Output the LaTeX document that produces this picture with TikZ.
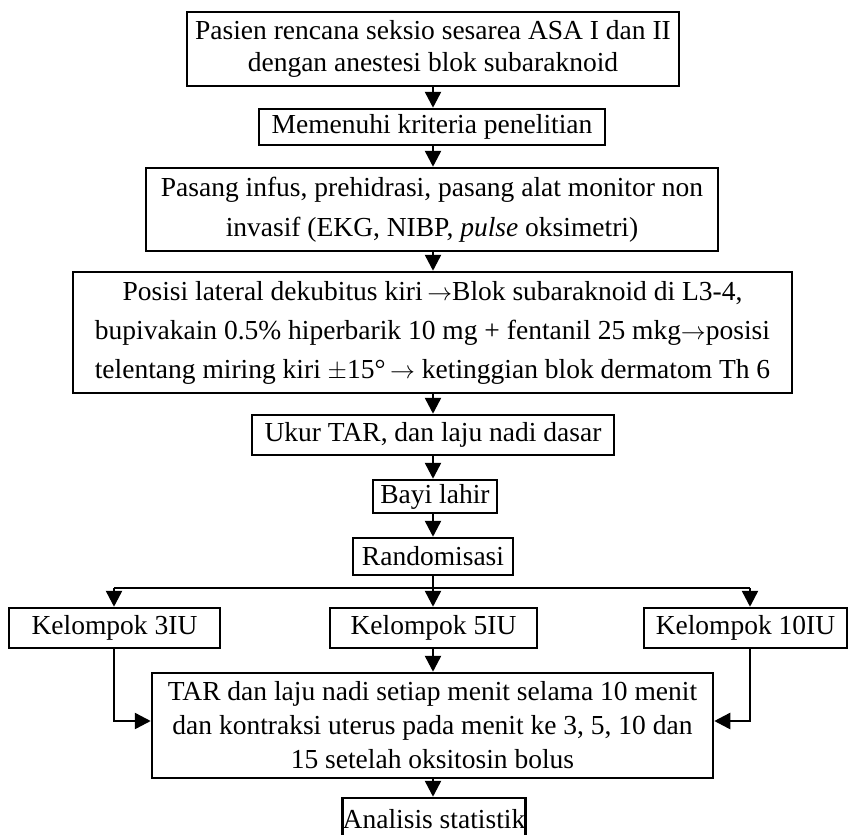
\documentclass[tikz,border=0pt]{standalone}
\usepackage{fontspec}
\setmainfont{Liberation Serif}
\usetikzlibrary{arrows.meta,calc}
\newcommand{\rarr}{\ensuremath{\rightarrow}}
\begin{document}
\begin{tikzpicture}[x=1pt,y=-1pt,
  box/.style={draw, line width=2.5pt, inner sep=0pt, align=center, font=\fontsize{27.5}{32}\selectfont},
  conn/.style={line width=2.5pt, -{Triangle[width=16pt,length=16pt]}},
  wire/.style={line width=2.5pt}]
\clip (0,0) rectangle (849,835);
\node[box, minimum width=492, minimum height=74] (b1) at (433,49)
  {Pasien rencana seksio sesarea ASA I dan II\\dengan anestesi blok subaraknoid};
\node[box, minimum width=346, minimum height=36] (b2) at (432,127)
  {Memenuhi kriteria penelitian};
\node[box, minimum width=572, minimum height=83, font=\fontsize{27.5}{40}\selectfont] (b3) at (432,209.5)
  {Pasang infus, prehidrasi, pasang alat monitor non\\invasif (EKG, NIBP, \textit{pulse} oksimetri)};
\node[box, minimum width=719, minimum height=121, font=\fontsize{27.5}{39}\selectfont] (b4) at (432.5,332.5)
  {Posisi lateral dekubitus kiri\,\rarr Blok subaraknoid di L3-4,\\
   bupivakain 0.5\% hiperbarik 10 mg + fentanil 25 mkg\rarr posisi\\
   telentang miring kiri \ensuremath{\pm}15°\,\rarr\ ketinggian blok dermatom Th 6};
\node[box, minimum width=362, minimum height=40] (b5) at (433,435)
  {Ukur TAR, dan laju nadi dasar};
\node[box, minimum width=124, minimum height=33] (b6) at (435,496.5)
  {Bayi lahir};
\node[box, minimum width=160, minimum height=37] (b7) at (433,556.5)
  {Randomisasi};
\node[box, minimum width=211, minimum height=40] (k3) at (114.5,628)
  {Kelompok 3IU};
\node[box, minimum width=207, minimum height=40] (k5) at (433.5,628)
  {Kelompok 5IU};
\node[box, minimum width=203, minimum height=40] (k10) at (745.5,628)
  {Kelompok 10IU};
\node[box, minimum width=561, minimum height=105, font=\fontsize{27.5}{34}\selectfont] (tar) at (432.5,725.5)
  {TAR dan laju nadi setiap menit selama 10 menit\\dan kontraksi uterus pada menit ke 3, 5, 10 dan\\15 setelah oksitosin bolus};
\node[box, minimum width=132, minimum height=42] (an) at (434,819)
  {Analisis statistik};
\coordinate (bm) at (433,588);
\coordinate (bl) at (114,588);
\coordinate (br) at (750,588);
\coordinate (ly) at (0,721);
\draw[conn] (b1.south -| bm) -- (b2.north -| bm);
\draw[conn] (b2.south -| bm) -- (b3.north -| bm);
\draw[conn] (b3.south -| bm) -- (b4.north -| bm);
\draw[conn] (b4.south -| bm) -- (b5.north -| bm);
\draw[conn] (b5.south -| bm) -- (b6.north -| bm);
\draw[conn] (b6.south -| bm) -- (b7.north -| bm);
\draw[wire] (b7.south -| bm) -- (bm);
\draw[wire] (bl) -- (br);
\draw[conn] (bl) -- (bl |- k3.north);
\draw[conn] (bm) -- (bm |- k5.north);
\draw[conn] (br) -- (br |- k10.north);
\draw[conn] (k5.south -| bm) -- (tar.north -| bm);
\draw[conn] (k3.south -| bl) |- (tar.west |- ly);
\draw[conn] (k10.south -| br) |- (tar.east |- ly);
\draw[conn] (tar.south -| bm) -- (an.north -| bm);
\end{tikzpicture}
\end{document}
